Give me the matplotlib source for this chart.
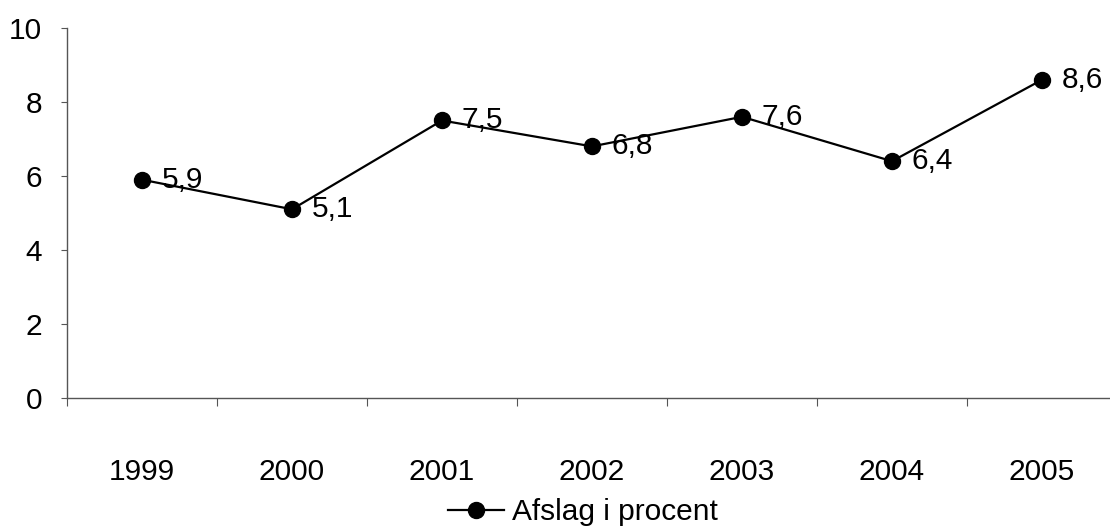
import matplotlib.pyplot as plt
import numpy as np

years = ['1999', '2000', '2001', '2002', '2003', '2004', '2005']
afslag = [5.9, 5.1, 7.5, 6.8, 7.6, 6.4, 8.6]
yticks = [0, 2, 4, 6, 8, 10]

plt.rcParams['font.family'] = ['Liberation Sans', 'DejaVu Sans']
fs = 21.5

fig = plt.figure(figsize=(11.10, 5.32), dpi=100)
ax = fig.add_axes([67 / 1110, 134 / 532, 1050 / 1110, 370 / 532])

x = np.arange(len(years))
line, = ax.plot(x, afslag, color='black', linewidth=1.6, marker='o',
                markersize=11.5, label='Afslag i procent', clip_on=False)

for xi, v in zip(x, afslag):
    ax.annotate(f'{v:.1f}'.replace('.', ','), (xi, v), xytext=(14, 0),
                textcoords='offset points', va='center', ha='left', fontsize=fs)

ax.set_xlim(-0.5, 6.5)
ax.set_ylim(0, 10)
ax.set_yticks(yticks)
ax.set_xticks(x)
ax.set_xticklabels(years)
ax.set_xticks(np.arange(-0.5, 6.5, 1.0), minor=True)

for side in ['top', 'right']:
    ax.spines[side].set_visible(False)
for side in ['left', 'bottom']:
    ax.spines[side].set_color('#555555')
    ax.spines[side].set_linewidth(1.0)

ax.tick_params(axis='y', length=4, width=0.8, color='#555555', pad=14, labelsize=fs)
ax.tick_params(axis='x', which='major', length=0, pad=43, labelsize=fs)
ax.tick_params(axis='x', which='minor', length=6, width=0.8, color='#555555')

fig.legend(handles=[line], loc='center', bbox_to_anchor=(583 / 1110, 1 - 512 / 532),
           frameon=False, fontsize=fs, handlelength=1.9, handletextpad=0.27,
           borderpad=0, markerscale=1.0)

fig.savefig('out.png', dpi=100)
